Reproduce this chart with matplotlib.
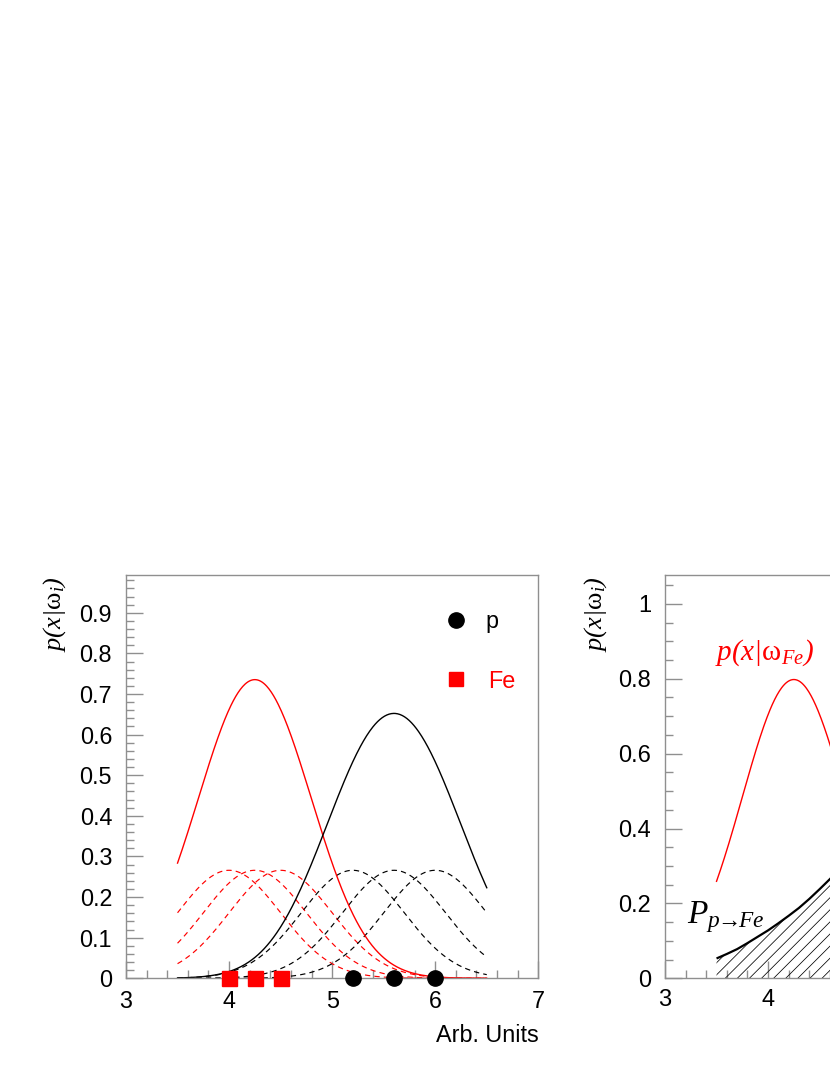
import numpy as np
import matplotlib
matplotlib.use("Agg")
import matplotlib.pyplot as plt
from matplotlib.ticker import MultipleLocator
from matplotlib.patches import Polygon
from matplotlib.collections import LineCollection

plt.rcParams['font.family'] = ['Liberation Sans', 'DejaVu Sans']
plt.rcParams['mathtext.fontset'] = 'custom'
plt.rcParams['mathtext.rm'] = 'Liberation Serif:italic'
plt.rcParams['mathtext.it'] = 'Liberation Serif:italic'
plt.rcParams['mathtext.sf'] = 'Liberation Serif'

# ---------------- data ----------------
fe_samples = [4.0, 4.25, 4.5]          # red squares (Fe training points)
p_samples = [5.2, 5.6, 6.0]            # black circles (p training points)
kernel_sigma = 0.5                      # Parzen window width
curve_x_range = [3.5, 6.5]
fe_mean_right = 4.25                    # right panel p(x|w_Fe)
fe_sigma_right = 0.5
mis_x = [3.5, 3.6, 3.7, 3.8, 3.9, 4.0, 4.1, 4.2, 4.3, 4.4, 4.5, 4.6, 4.7]
mis_y = [0.053, 0.065, 0.078, 0.094, 0.111, 0.128, 0.147, 0.167, 0.188,
         0.212, 0.238, 0.265, 0.293]
x_ticks = [3, 4, 5, 6, 7]
x_tick_labels = ['3', '4', '5', '6', '7']
right_x_ticks = [3, 4]                  # only these fall inside the picture
right_x_tick_labels = ['3', '4']
left_yticks = [0, 0.1, 0.2, 0.3, 0.4, 0.5, 0.6, 0.7, 0.8, 0.9]
left_ytick_labels = ['0', '0.1', '0.2', '0.3', '0.4', '0.5', '0.6', '0.7', '0.8', '0.9']
right_yticks = [0, 0.2, 0.4, 0.6, 0.8, 1.0]
right_ytick_labels = ['0', '0.2', '0.4', '0.6', '0.8', '1']
legend_labels = ['p', 'Fe']

RED = '#ff0000'
GREY = '#8f8f8f'


def gauss(x, mu, s):
    return np.exp(-0.5 * ((x - mu) / s) ** 2) / (s * np.sqrt(2 * np.pi))


W, H = 830, 1075
fig = plt.figure(figsize=(W / 100, H / 100), dpi=100)
fig.patch.set_facecolor('white')

ax_h = 403.3 / H
ax_b = (H - 978.3) / H
ax_w = 412.3 / W
ax1 = fig.add_axes([126 / W, ax_b, ax_w, ax_h])
ax2 = fig.add_axes([665 / W, ax_b, ax_w, ax_h])


def style(ax, xpad, ypad):
    for s in ax.spines.values():
        s.set_color(GREY)
        s.set_linewidth(1.0)
    ax.tick_params(which='both', direction='in', color=GREY, top=False, right=False,
                   width=1.0)
    ax.tick_params(which='major', length=12)
    ax.tick_params(which='minor', length=6)
    ax.tick_params(axis='x', which='major', pad=xpad)
    ax.tick_params(axis='y', which='major', pad=ypad)
    ax.set_xlim(3, 7)
    ax.xaxis.set_minor_locator(MultipleLocator(0.2))


# ---------------- left panel ----------------
style(ax1, 8.5, 10)
ax1.set_ylim(0, 0.993)
ax1.set_xticks(x_ticks, labels=x_tick_labels, fontsize=16.8)
ax1.set_yticks(left_yticks, labels=left_ytick_labels, fontsize=16.8)
ax1.yaxis.set_minor_locator(MultipleLocator(0.02))

xs = np.linspace(curve_x_range[0], curve_x_range[1], 400)
n_fe = len(fe_samples)
n_p = len(p_samples)
dash = (0, (4.5, 3.5))
for c in fe_samples:
    ax1.plot(xs, gauss(xs, c, kernel_sigma) / n_fe, color=RED, lw=0.85, ls=dash)
for c in p_samples:
    ax1.plot(xs, gauss(xs, c, kernel_sigma) / n_p, color='black', lw=0.85, ls=dash)
fe_sum = sum(gauss(xs, c, kernel_sigma) for c in fe_samples) / n_fe
p_sum = sum(gauss(xs, c, kernel_sigma) for c in p_samples) / n_p
ax1.plot(xs, fe_sum, color=RED, lw=1.0)
ax1.plot(xs, p_sum, color='black', lw=1.0)

ax1.plot(fe_samples, [0] * n_fe, 's', color=RED, ms=10.8, mec=RED, clip_on=False, zorder=5)
ax1.plot(p_samples, [0] * n_p, 'o', color='black', ms=11, clip_on=False, zorder=5)

# legend
ax1.plot([6.199], [0.881], 'o', color='black', ms=11, clip_on=False)
ax1.plot([6.199], [0.736], 's', color=RED, ms=10.3, clip_on=False)
ax1.text(6.49, 0.862, legend_labels[0], color='black', fontsize=16.8, va='baseline', ha='left')
ax1.text(6.516, 0.714, legend_labels[1], color=RED, fontsize=16.8, va='baseline', ha='left')

ax1.text(1.0, -0.157, 'Arb. Units', transform=ax1.transAxes, ha='right',
         va='baseline', fontsize=16.8)

fig.text(55 / W, 1 - 576 / H, r'$p(x|\mathsf{\omega}_{i})$', rotation=90,
         ha='center', va='top', fontsize=19)

# ---------------- right panel ----------------
style(ax2, 8, 10)
ax2.set_ylim(0, 1.077)
ax2.set_xticks(right_x_ticks, labels=right_x_tick_labels, fontsize=17)
ax2.set_yticks(right_yticks, labels=right_ytick_labels, fontsize=17)
ax2.yaxis.set_minor_locator(MultipleLocator(0.05))

ax2.plot(xs, gauss(xs, fe_mean_right, fe_sigma_right), color=RED, lw=1.0)
ax2.plot(mis_x, mis_y, color='black', lw=1.6, solid_capstyle='butt')

# hatched area under the misclassification curve
poly = Polygon(list(zip(mis_x, mis_y)) + [(mis_x[-1], 0), (mis_x[0], 0)],
               closed=True, fill=False, edgecolor='none')
ax2.add_patch(poly)
fig.canvas.draw()
p0 = ax2.transData.transform((3, 0))
p1 = ax2.transData.transform((4, 1))
ppx, ppy = p1[0] - p0[0], p1[1] - p0[1]
step = 12.1 / ppx
hx = np.arange(3.584 - 8 * step, 5.0, step)
segs = [[(x0, 0), (x0 + 0.6 * ppy / ppx, 0.6)] for x0 in hx]
lc = LineCollection(segs, colors='black', linewidths=0.55)
ax2.add_collection(lc)
lc.set_clip_path(poly)

ax2.text(3.487, 0.85, r'$p(x|\mathsf{\omega}_{Fe})$', color=RED, fontsize=21,
         ha='left', va='baseline')
ax2.text(3.21, 0.148, r'$P_{p\!\!\rightarrow\!\!Fe}$', color='black', fontsize=24,
         ha='left', va='baseline')

fig.text(596 / W, 1 - 576 / H, r'$p(x|\mathsf{\omega}_{i})$', rotation=90,
         ha='center', va='top', fontsize=19)

fig.savefig('out.png', dpi=100, facecolor='white')
